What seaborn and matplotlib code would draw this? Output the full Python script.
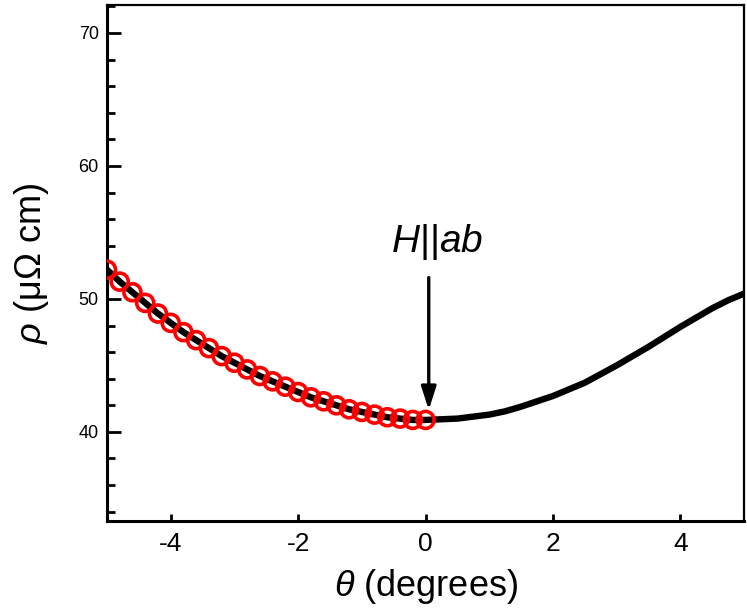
import matplotlib
matplotlib.use("Agg")
import matplotlib.pyplot as plt
import seaborn as sns
import numpy as np
import pandas as pd

# ---- data ----
theta_pts = [-5.0, -4.8, -4.6, -4.4, -4.2, -4.0, -3.8, -3.6, -3.4, -3.2, -3.0,
             -2.8, -2.6, -2.4, -2.2, -2.0, -1.8, -1.6, -1.4, -1.2, -1.0,
             -0.8, -0.6, -0.4, -0.2, 0.0]
rho_pts = [52.2, 51.3, 50.5, 49.7, 48.9, 48.2, 47.5, 46.9, 46.3, 45.7, 45.2,
           44.7, 44.2, 43.8, 43.4, 43.0, 42.6, 42.3, 42.0, 41.7, 41.5,
           41.3, 41.1, 41.0, 40.9, 40.9]

theta_right = [0.25, 0.5, 0.75, 1.0, 1.25, 1.5, 1.75, 2.0, 2.25, 2.5, 2.75,
               3.0, 3.25, 3.5, 3.75, 4.0, 4.25, 4.5, 4.75, 5.0]
rho_right = [40.95, 41.0, 41.15, 41.3, 41.55, 41.9, 42.3, 42.7, 43.2, 43.7,
             44.35, 45.0, 45.7, 46.4, 47.15, 47.9, 48.6, 49.3, 49.9, 50.4]

x_ticks = [-4, -2, 0, 2, 4]
y_ticks = [40, 50, 60, 70]
annotation_text = r"$H$||$ab$"

# ---- style ----
sns.set_theme(style="white")
plt.rcParams["font.family"] = ["Liberation Sans", "DejaVu Sans"]
plt.rcParams["mathtext.fontset"] = "custom"
plt.rcParams["mathtext.rm"] = "Liberation Sans"
plt.rcParams["mathtext.it"] = "Liberation Sans:italic"
plt.rcParams["mathtext.bf"] = "Liberation Sans:bold"
plt.rcParams["text.color"] = "black"
plt.rcParams["axes.labelcolor"] = "black"
plt.rcParams["xtick.color"] = "black"
plt.rcParams["ytick.color"] = "black"

line_df = pd.DataFrame({"theta": theta_pts + theta_right,
                        "rho": rho_pts + rho_right})
pts_df = pd.DataFrame({"theta": theta_pts, "rho": rho_pts})

fig = plt.figure(figsize=(7.47, 6.09), dpi=100)
ax = fig.add_axes([0.1432, 0.1445, 0.853, 0.8473])

sns.lineplot(data=line_df, x="theta", y="rho", ax=ax, color="black",
             linewidth=4.6, sort=True, zorder=2)
sns.scatterplot(data=pts_df, x="theta", y="rho", ax=ax, marker="o",
                facecolors="none", edgecolor="#ff0000", s=150,
                linewidth=2.6, zorder=3)

ax.set_xlim(-5, 5)
ax.set_ylim(33.3, 72.1)

# ticks
ax.set_xticks(x_ticks)
ax.set_xticklabels([str(t) for t in x_ticks], fontsize=19)
ax.set_xticks([-2, 2], minor=True)
ax.set_yticks(y_ticks)
ax.set_yticklabels([str(t) for t in y_ticks], fontsize=13)
ax.set_yticks([v for v in range(34, 73, 2) if v % 10 != 0], minor=True)

ax.tick_params(axis="x", which="major", direction="in", length=5, width=2,
               pad=8, bottom=True, top=False, colors="black")
ax.tick_params(axis="x", which="minor", direction="in", length=10, width=2,
               bottom=True, top=False, labelbottom=False, colors="black")
ax.tick_params(axis="y", which="major", direction="in", length=10, width=2,
               pad=6, left=True, right=False, colors="black")
ax.tick_params(axis="y", which="minor", direction="in", length=6, width=2,
               left=True, right=False, colors="black")

for side in ["left", "bottom"]:
    ax.spines[side].set_linewidth(2.2)
    ax.spines[side].set_color("black")
for side in ["top", "right"]:
    ax.spines[side].set_linewidth(1.6)
    ax.spines[side].set_color("black")

ax.set_xlabel(r"$\theta$ (degrees)", fontsize=26, labelpad=8, color="black")
ax.set_ylabel(r"$\rho$ ($\mathrm{\mu\Omega}$ cm)", fontsize=26, labelpad=20,
              color="black")

# arrow and annotation
ax.annotate("", xy=(0.05, 41.65), xytext=(0.05, 51.6),
            arrowprops=dict(arrowstyle="-|>,head_length=1.4,head_width=0.45",
                            mutation_scale=10, lw=2.4, color="black",
                            shrinkA=0, shrinkB=0), zorder=4)
ax.text(0.18, 53.5, annotation_text, fontsize=28, ha="center", va="baseline",
        color="black")

fig.savefig("out.png", dpi=100)
